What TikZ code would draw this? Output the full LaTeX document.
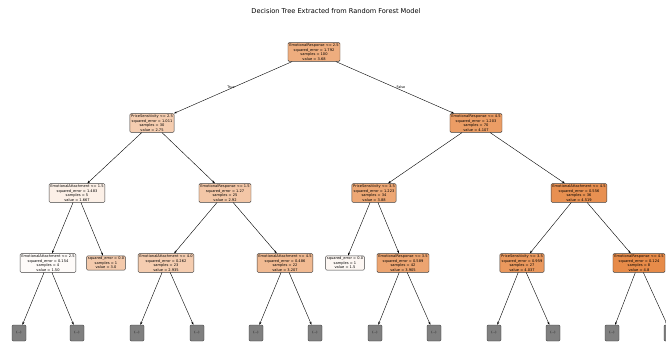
\documentclass[tikz,border=0pt]{standalone}
\usepackage{fontspec}
\setmainfont{DejaVu Sans}
\usetikzlibrary{arrows.meta}
\definecolor{treeorange}{RGB}{229,129,57}
\definecolor{leafgray}{RGB}{128,128,128}

\begin{document}
\begin{tikzpicture}[x=1pt, y=-1pt, line cap=round, line join=round,
    split/.style={draw=black!75, rounded corners=1.2pt, inner sep=1.3pt, align=center,
      font=\fontsize{3.6}{4.5}\selectfont, line width=0.4pt},
    cut/.style={draw=black!80, fill=leafgray, rounded corners=1.2pt, minimum width=14pt,
      minimum height=16pt, inner sep=0pt, font=\fontsize{3}{3.5}\selectfont},
    edge/.style={-{Stealth[length=3pt,width=2pt]}, line width=0.4pt},
    branch/.style={font=\fontsize{3.4}{4}\selectfont}]

    % canvas
    \fill[white] (0,0) rectangle (666,345);
    \useasboundingbox (0,0) rectangle (666,345);
    \clip (0,0) rectangle (666,345);

    \node[font=\fontsize{6.6}{8}\selectfont] (title) at (336,11)
      {Decision Tree Extracted from Random Forest Model};

    % depth 0
    \node[split, fill=treeorange!65] (root) at (314,52)
      {EmotionalResponse <= 2.5\\squared\_error = 1.792\\samples = 100\\value = 3.68};

    % depth 1
    \node[split, fill=treeorange!40] (l1a) at (152,123)
      {PriceSensitivity <= 2.5\\squared\_error = 1.011\\samples = 30\\value = 2.75};
    \node[split, fill=treeorange!78] (l1b) at (476,123)
      {EmotionalResponse <= 4.5\\squared\_error = 1.203\\samples = 70\\value = 4.107};

    % depth 2
    \node[split, fill=treeorange!12] (l2a) at (77,193)
      {EmotionalAttachment <= 1.5\\squared\_error = 1.483\\samples = 5\\value = 1.667};
    \node[split, fill=treeorange!45] (l2b) at (225,193)
      {EmotionalResponse <= 1.5\\squared\_error = 1.27\\samples = 25\\value = 2.92};
    \node[split, fill=treeorange!70] (l2c) at (374,193)
      {PriceSensitivity <= 3.5\\squared\_error = 1.223\\samples = 34\\value = 3.88};
    \node[split, fill=treeorange!88] (l2d) at (579,193)
      {EmotionalAttachment <= 4.5\\squared\_error = 0.556\\samples = 36\\value = 4.519};

    % depth 3
    \node[split, fill=treeorange!3] (l3a) at (48,263)
      {EmotionalAttachment <= 2.5\\squared\_error = 0.154\\samples = 4\\value = 1.50};
    \node[split, fill=treeorange!42] (l3b) at (106,263)
      {squared\_error = 0.0\\samples = 1\\value = 3.0};
    \node[split, fill=treeorange!40] (l3c) at (166,263)
      {EmotionalAttachment <= 4.0\\squared\_error = 0.262\\samples = 23\\value = 2.935};
    \node[split, fill=treeorange!55] (l3d) at (285,263)
      {EmotionalAttachment <= 4.5\\squared\_error = 0.486\\samples = 22\\value = 3.207};
    \node[split, fill=treeorange!6] (l3e) at (345,263)
      {squared\_error = 0.0\\samples = 1\\value = 1.5};
    \node[split, fill=treeorange!72] (l3f) at (403,263)
      {EmotionalResponse <= 3.5\\squared\_error = 0.589\\samples = 42\\value = 3.905};
    \node[split, fill=treeorange!82] (l3g) at (522,263)
      {PriceSensitivity <= 3.5\\squared\_error = 0.959\\samples = 27\\value = 4.037};
    \node[split, fill=treeorange!92] (l3h) at (639,263)
      {EmotionalResponse <= 4.5\\squared\_error = 0.124\\samples = 8\\value = 4.8};

    % branches
    \foreach \a/\b in {root/l1a, root/l1b, l1a/l2a, l1a/l2b, l1b/l2c, l1b/l2d,
        l2a/l3a, l2a/l3b, l2b/l3c, l2b/l3d, l2c/l3e, l2c/l3f, l2d/l3g, l2d/l3h}
      \draw[edge] (\a) -- (\b);

    \node[branch] (yes) at (231,87) {True};
    \node[branch] (no) at (401,87) {False};

    % truncated subtrees
    \foreach \x/\p [count=\i] in {19/l3a, 77/l3a, 137/l3c, 197/l3c, 256/l3d, 315/l3d,
        375/l3f, 434/l3f, 494/l3g, 553/l3g, 612/l3h, 671/l3h} {
      \node[cut] (leaf\i) at (\x,333) {(...)};
      \draw[edge] (\p) -- (leaf\i);
    }
\end{tikzpicture}
\end{document}
